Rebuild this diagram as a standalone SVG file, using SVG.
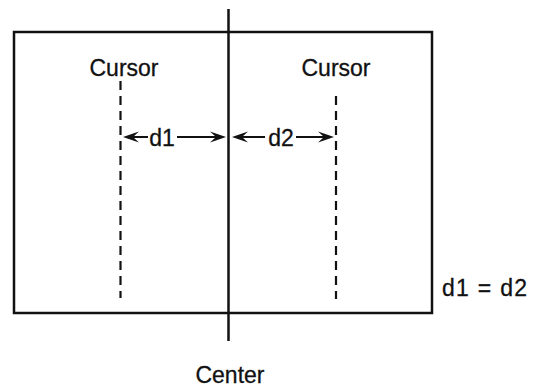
<svg xmlns="http://www.w3.org/2000/svg" width="534" height="387" viewBox="0 0 534 387">
  <style>
    .txt { font-family: "Liberation Sans", Arial, Helvetica, sans-serif; font-size: 23px; fill: #111; stroke: #111; stroke-width: 0.3; }
    .frame { fill: none; stroke: #111; stroke-width: 2.5; }
    .solid { stroke: #111; stroke-width: 2.5; fill: none; }
    .dash { stroke: #111; stroke-width: 2.2; stroke-dasharray: 9 6; fill: none; }
    .dim { stroke: #111; stroke-width: 2; fill: none; marker-end: url(#head); }
  </style>
  <defs>
    <marker id="head" markerUnits="userSpaceOnUse" viewBox="-16 -6 16 12" markerWidth="16" markerHeight="12" refX="-8" refY="0" orient="auto">
      <path d="M0,0 L-16,-5.5 L-10,0 L-16,5.5 Z" fill="#111"/>
    </marker>
  </defs>

  <!-- outer frame -->
  <g id="frame">
    <rect class="frame" x="14" y="32" width="418" height="281"/>
  </g>

  <!-- vertical centre line -->
  <g id="center-line">
    <line class="solid" x1="228.5" y1="9" x2="228.5" y2="341"/>
    <text class="txt" x="230" y="383" text-anchor="middle">Center</text>
  </g>

  <!-- left cursor -->
  <g id="cursor-left">
    <text class="txt" x="124" y="76" text-anchor="middle">Cursor</text>
    <line class="dash" x1="120.5" y1="81" x2="120.5" y2="298"/>
  </g>

  <!-- right cursor -->
  <g id="cursor-right">
    <text class="txt" x="336" y="76" text-anchor="middle">Cursor</text>
    <line class="dash" x1="336" y1="96" x2="336" y2="299"/>
  </g>

  <!-- dimension arrows -->
  <g id="connectors">
    <line class="dim" x1="148" y1="137" x2="131" y2="137"/>
    <line class="dim" x1="177" y1="137" x2="218" y2="137"/>
    <line class="dim" x1="265" y1="137" x2="240" y2="137"/>
    <line class="dim" x1="296" y1="137" x2="326" y2="137"/>
  </g>

  <!-- dimension labels -->
  <g id="labels">
    <text class="txt" x="162" y="146" text-anchor="middle">d1</text>
    <text class="txt" x="281" y="146" text-anchor="middle">d2</text>
    <text class="txt" x="442" y="296" textLength="85" lengthAdjust="spacing">d1 = d2</text>
  </g>
</svg>
